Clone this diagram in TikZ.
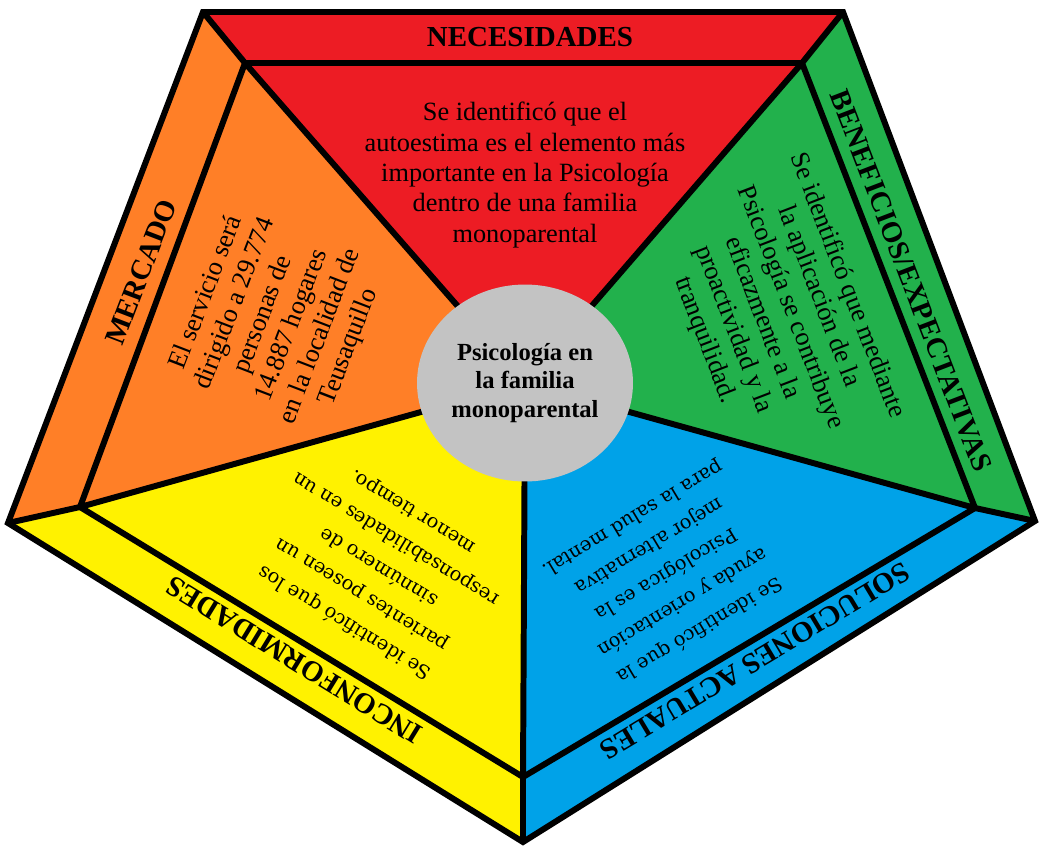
\documentclass[tikz,border=0pt]{standalone}
\usepackage{fontspec}
\setmainfont{Liberation Serif}
\newfontfamily\wideserif{DejaVu Serif}
\usetikzlibrary{shapes.geometric}
\definecolor{necred}{RGB}{237,28,36}
\definecolor{benegreen}{RGB}{34,177,76}
\definecolor{solblue}{RGB}{0,162,232}
\definecolor{inconyellow}{RGB}{255,242,0}
\definecolor{mercorange}{RGB}{255,127,39}
\definecolor{centergray}{RGB}{195,195,195}
\begin{document}
\begin{tikzpicture}[x=0.02cm, y=-0.02cm,
  edge/.style={line width=3.4pt, line join=miter},
  title/.style={font=\fontsize{16.5}{19}\selectfont\bfseries},
  body/.style={font=\fontsize{15}{17.3}\selectfont, align=center},
  widebody/.style={font=\wideserif\fontsize{11}{18.5}\selectfont, align=center}]
  \useasboundingbox (0,0) rectangle (1040,846);
  % outer and inner pentagon
  \coordinate (o1) at (203,12);
  \coordinate (o2) at (843,12);
  \coordinate (o3) at (1035,521);
  \coordinate (o4) at (523,842);
  \coordinate (o5) at (8,523);
  \coordinate (i1) at (245,63);
  \coordinate (i2) at (802,63);
  \coordinate (i3) at (975,508);
  \coordinate (i4) at (523,777);
  \coordinate (i5) at (80,507);
  \coordinate (c) at (525,383);
  \foreach \u/\v/\col in {1/2/necred,2/3/benegreen,3/4/solblue,4/5/inconyellow,5/1/mercorange}
    \fill[\col] (o\u) -- (o\v) -- (i\v) -- (c) -- (i\u) -- cycle;
  \draw[edge] (o1) -- (o2) -- (o3) -- (o4) -- (o5) -- cycle;
  \draw[edge] (i1) -- (i2) -- (i3) -- (i4) -- (i5) -- cycle;
  \foreach \u in {1,...,5}
    \draw[edge] (o\u) -- (i\u) -- (c);
  \node[ellipse, fill=centergray, minimum width=4.32cm, minimum height=3.94cm, inner sep=0pt,
    align=center, font=\fontsize{14}{16}\selectfont\bfseries] (centre) at (c)
    {Psicología en\\la familia\\monoparental};
  % titles
  \node[title] (necesidades) at (530,37) {NECESIDADES};
  \node[title, rotate=-69] (beneficios) at (911,281) {BENEFICIOS/EXPECTATIVAS};
  \node[title, rotate=-149] (soluciones) at (755,661) {SOLUCIONES ACTUALES};
  \node[title, rotate=148.5] (inconformidades) at (294,660) {INCONFORMIDADES};
  \node[title, rotate=69] (mercado) at (141,272) {MERCADO};
  % texts
  \node[body] (necbody) at (525,175) {Se identificó que el\\autoestima es el elemento más\\importante en la Psicología\\dentro de una familia\\monoparental};
  \node[body, rotate=-69] (benebody) at (776,313) {Se identificó que mediante\\la aplicación de la\\Psicología se contribuye\\eficazmente a la\\proactividad y la\\tranquilidad.};
  \node[widebody, rotate=-149] (solbody) at (666,574) {Se identificó que la\\ayuda y orientación\\Psicológica es la\\mejor alternativa\\para la salud mental.};
  \node[widebody, rotate=148.5] (inconbody) at (379,567) {Se identificó que los\\parientes poseen un\\sinnúmero de\\responsabilidades en un\\menor tiempo.};
  \node[body, rotate=69] (mercbody) at (278,320) {El servicio será\\dirigido a 29.774\\personas de\\14.887 hogares\\en la localidad de\\Teusaquillo};
\end{tikzpicture}
\end{document}
